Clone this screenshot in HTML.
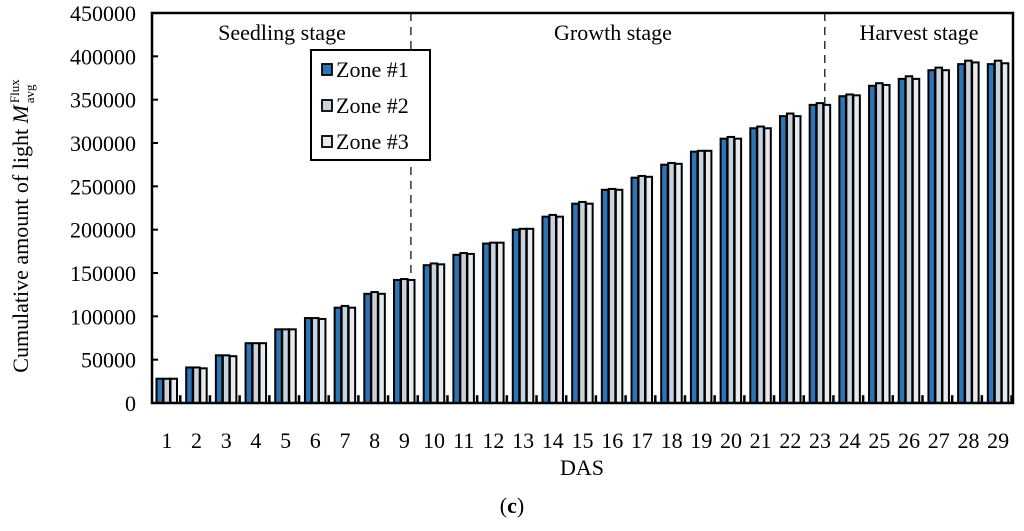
<!DOCTYPE html>
<html><head><meta charset="utf-8"><style>
body{margin:0;background:#fff;width:1024px;height:526px;overflow:hidden;font-family:"Liberation Serif",serif;}
</style></head><body>
<svg id="chart" width="1024" height="526" xmlns="http://www.w3.org/2000/svg" font-family="Liberation Serif, serif">
</svg>
<script>
const categories=[1,2,3,4,5,6,7,8,9,10,11,12,13,14,15,16,17,18,19,20,21,22,23,24,25,26,27,28,29];
const zone1=[28000,41000,55000,69000,85000,98000,110000,126000,142000,159000,171000,184000,200000,215000,230000,246000,260000,275000,290000,305000,317000,331000,344000,354000,366000,374000,384000,391000,391000];
const zone2=[28000,41000,55000,69000,85000,98000,112000,128000,143000,161000,173000,185000,201000,217000,232000,247000,262000,277000,291000,307000,319000,334000,346000,356000,369000,377000,387000,395000,395000];
const zone3=[28000,40000,54000,69000,85000,97000,110000,126000,142000,160000,172000,185000,201000,215000,230000,246000,261000,276000,291000,305000,317000,331000,344000,355000,367000,374000,384000,393000,392000];
const stub=[9000,9000,9000,9000,9000,9000,9000,9000,9000,9000,9000,9000,9000,9000,9000,9000,9000,9000,9000,9000,9000,9000,9000,9000,9000,9000,9000,9000,9000];
const yTicks=[0,50000,100000,150000,200000,250000,300000,350000,400000,450000];
const stages=["Seedling stage","Growth stage","Harvest stage"];
const stageBreaks=[8.72,22.66];

const svg=document.getElementById('chart');
const NS='http://www.w3.org/2000/svg';
const L=152,R=1013,T=13,B=403,yMax=450000;
const cw=(R-L)/categories.length;
const x=i=>L+i*cw;
const y=v=>B-v/yMax*(B-T);
function mk(tag,attrs,txt){const e=document.createElementNS(NS,tag);for(const k in attrs)e.setAttribute(k,attrs[k]);if(txt!==undefined)e.textContent=txt;svg.appendChild(e);return e;}

stageBreaks.forEach(b=>{
  const l=mk('line',{x1:x(b),x2:x(b),y1:T,y2:B,stroke:'#333','stroke-width':1.5,'stroke-dasharray':'8,6'});
  
  
});
const series=[[zone1,'#2e75b6',4.5],[zone2,'#c9d3dc',11.5],[zone3,'#e4eaef',18.5]];
categories.forEach((c,i)=>{
  series.forEach(([arr,col,off],s)=>{
    const r=mk('rect',{x:x(i)+off,y:y(arr[i]),width:6.5,height:B-y(arr[i]),fill:col,stroke:'#000','stroke-width':2});
    
    
  });
  const st=mk('rect',{x:x(i)+27,y:y(stub[i]),width:2.5,height:B-y(stub[i]),fill:'#000'});
  
  
  const t=mk('text',{x:x(i)+cw/2,y:448,'font-size':22,'text-anchor':'middle'},String(c));
  
  
});
yTicks.forEach(v=>{
  const t=mk('text',{x:136,y:y(v)+8,'font-size':22,'text-anchor':'end'},String(v));
  
  
  const l=mk('line',{x1:L,x2:L+6,y1:y(v),y2:y(v),stroke:'#000','stroke-width':2});
  
  
});
const frame=mk('rect',{x:L,y:T,width:R-L,height:B-T,fill:'none',stroke:'#000','stroke-width':2.5});


const stX=[282,613,919];
stages.forEach((s,i)=>{
  const t=mk('text',{x:stX[i],y:40,'font-size':22,'text-anchor':'middle'},s);
  
  
});
const lg=mk('rect',{x:311,y:50,width:119,height:110,fill:'#fff',stroke:'#000','stroke-width':2});


series.forEach(([a,col],s)=>{
  const r=mk('rect',{x:322,y:64+s*36,width:10,height:11,fill:col,stroke:'#000','stroke-width':1.8});
  
  
  const t=mk('text',{x:336,y:77+s*36,'font-size':22},'Zone #'+(s+1));
  
  
});
const yt=mk('text',{x:0,y:0,'font-size':22,transform:'translate(28,226) rotate(-90)','text-anchor':'middle'});


yt.innerHTML='Cumulative amount of light  <tspan font-style="italic">M</tspan><tspan font-size="13" dy="-9" dx="2">Flux</tspan><tspan font-size="13" dy="15" dx="-24">avg</tspan>';
const xt=mk('text',{x:582,y:475,'font-size':22,'text-anchor':'middle'},'DAS');


const cap=mk('text',{x:512,y:513,'font-size':22,'text-anchor':'middle'});


cap.innerHTML='(<tspan font-weight="bold">c</tspan>)';
</script>
</body></html>
